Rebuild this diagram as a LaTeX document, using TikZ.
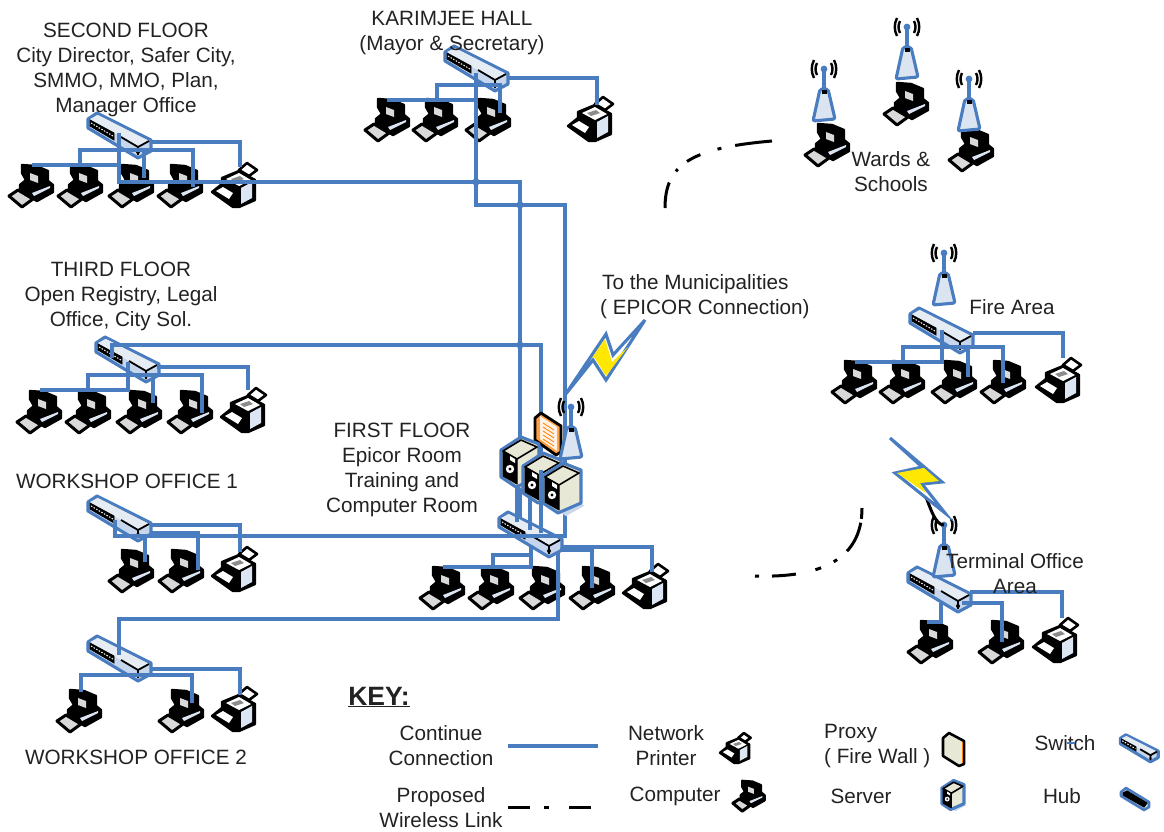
\documentclass[tikz,border=0pt]{standalone}
\usepackage{fontspec}
\setmainfont{Liberation Sans}
\definecolor{lnk}{HTML}{4A7CC0}
\definecolor{ink}{HTML}{222222}
\definecolor{swtop}{HTML}{E6ECF4}
\definecolor{swfront}{HTML}{C6D6EC}
\definecolor{beige}{HTML}{E8E8D6}
\tikzset{
  x=1pt,y=-1pt,
  link/.style={draw=lnk,line width=3.1,line join=miter},
  lbl/.style={text=ink,font=\fontsize{20.7}{25}\selectfont,align=center,inner sep=0},
  blk/.style={fill=black,draw=black,line width=2.4,line join=round},
  compicon/.pic={
    \path[blk] (-8,-21)--(6,-20)--(18,-15)--(18,-5)--(23,-1)--(23,6)--(7,15)--(-10,5)--(-10,-1)--(-4,-6)--(-8,-13)--cycle;
    \fill[white!85!black] (0,-13)--(8,-10)--(8,-3)--(0,-6)--cycle;
    \fill[white!80!lnk] (2,7)--(20,0)--(20,2)--(4,10)--cycle;
    \path[fill=white!85!black,draw=black,line width=3,line join=round] (-21,10)--(-12,4)--(3,13)--(-8,21)--cycle;
  },
  printicon/.pic={
    \path[fill=white,draw=black,line width=2.6,line join=round] (5,-15)--(13,-22)--(23,-15)--(15,-9)--cycle;
    \path[blk] (-12,-7)--(5,-14)--(21,-5)--(21,15)--(5,22)--(-1,22)--(-22,7)--(-12,-1)--cycle;
    \fill[white] (-8,-6)--(5,-12)--(17,-5)--(5,1)--cycle;
    \fill[black!45] (-3,-6)--(6,-9)--(10,-6)--(1,-3)--cycle;
    \fill[white!80!lnk] (7,3)--(18,-3)--(18,13)--(7,19)--cycle;
    \fill[white] (-18,6)--(-11,2)--(-1,8)--(-5,14)--cycle;
  },
  swicon/.pic={
    \path[fill=swfront,draw=lnk,line width=3.1,line join=round] (-31,-16)--(-22,-22)--(32,5)--(32,16)--(19,23)--(-31,-7)--cycle;
    \fill[swtop] (-29,-16)--(-21,-20)--(30,6)--(19,12)--cycle;
    \path[fill=black,draw=black,line width=.8] (-29,-15)--(-5,-2)--(-5,5)--(-29,-9)--cycle;
    \draw[white,line width=1,dash pattern=on 1.5 off 1.5] (-28,-12)--(-6,1);
    \draw[black,line width=1.8] (19,12)--(30,6);
    \draw[black,line width=1.8] (2,2)--(19,12)--(19,20);
    \fill[black] (19,17) circle (2);
  },
  hubicon/.pic={
    \path[fill=swfront,draw=lnk,line width=2.6,line join=round] (-14,-7)--(-9,-11)--(14,3)--(14,8)--(9,11)--(-14,-3)--cycle;
    \path[fill=black,draw=black,line width=1] (-12,-6)--(-8,-8)--(12,4)--(9,8)--(-12,-4)--cycle;
  },
  anticon/.pic={
    \path[fill=white!80!lnk,draw=lnk,line width=3.1,line join=round,rounded corners=2] (-4,20)--(4,20)--(11,50)--(-11,52)--cycle;
    \fill[black] (-2.5,21) rectangle (2.5,25);
    \draw[lnk,line width=3.1] (0,0)--(0,21);
    \fill[lnk] (0,0) circle (3.4);
    \draw[black,line width=2.4] (-7,-6) .. controls (-9,-2) and (-9,2) .. (-7,6);
    \draw[black,line width=2.4] (7,-6) .. controls (9,-2) and (9,2) .. (7,6);
    \draw[black,line width=2.4] (-10,-9) .. controls (-13,-3) and (-13,3) .. (-10,9);
    \draw[black,line width=2.4] (10,-9) .. controls (13,-3) and (13,3) .. (10,9);
  },
  servicon/.pic={
    \fill[lnk!30] (-2,24)--(19,14)--(22,18)--(4,28)--cycle;
    \path[fill=beige,draw=lnk,line width=3.1,line join=round] (-19,-12)--(1,-25)--(19,-18)--(19,15)--(-4,25)--(-19,15)--cycle;
    \path[fill=beige,draw=black,line width=1.6,line join=round] (-17,-11)--(1,-22)--(17,-15)--(-3,-3)--cycle;
    \path[fill=black,draw=black,line width=1,line join=round] (-17,-11)--(-3,-3)--(-3,22)--(-17,14)--cycle;
    \fill[white] (-10,-6)--(-5,-3)--(-5,1)--(-10,-2)--cycle;
    \fill[white] (-10,7) circle (4.2);
    \fill[black] (-10,7) circle (1.6);
  },
  fwicon/.pic={
    \path[fill=orange!75!white,draw=black,line width=2.8,line join=round] (-13,-15)--(-7,-20)--(13,-7)--(13,19)--(8,22)--(-13,7)--cycle;
    \fill[white!90!orange] (-8,-17)--(9,-6)--(9,18)--(-8,6)--cycle;
    \foreach \q in {-10,-6,...,6} {\draw[orange,line width=.8] (-5,\q)--(6,\q+7);}
  },
  keyfw/.pic={
    \path[fill=beige,draw=black,line width=2.6,line join=round] (-10,-11)--(-4,-16)--(11,-8)--(11,15)--(6,17)--(-10,7)--cycle;
    \draw[orange,line width=1.4] (9.5,-7)--(9.5,14);
  },
}
\newcommand{\dev}[4]{\coordinate (#1) at (#2,#3); \pic at (#1) {#4};}
\begin{document}
\begin{tikzpicture}
\useasboundingbox (0,0) rectangle (1164,831);
% second floor
\dev{cA}{30}{186}{compicon}\dev{cB}{79}{186}{compicon}\dev{cC}{130}{186}{compicon}\dev{cD}{179}{186}{compicon}\dev{pA}{234}{185}{printicon}\dev{sA}{119}{135}{swicon}
% Karimjee
\dev{kA}{386}{120}{compicon}\dev{kB}{434}{120}{compicon}\dev{kC}{487}{120}{compicon}\dev{pK}{590}{119}{printicon}\dev{sK}{476}{68}{swicon}
% third floor
\dev{dA}{38}{412}{compicon}\dev{dB}{87}{412}{compicon}\dev{dC}{138}{412}{compicon}\dev{dD}{189}{412}{compicon}\dev{pD}{243}{410}{printicon}\dev{sD}{127}{359}{swicon}
% workshop 1
\dev{eA}{130}{571}{compicon}\dev{eB}{180}{571}{compicon}\dev{pE}{234}{569}{printicon}\dev{sE}{119}{518}{swicon}
% workshop 2
\dev{gA}{78}{711}{compicon}\dev{gB}{180}{711}{compicon}\dev{pG}{234}{709}{printicon}\dev{sG}{119}{658}{swicon}
% first floor
\dev{fA}{441}{588}{compicon}\dev{fB}{490}{588}{compicon}\dev{fC}{541}{588}{compicon}\dev{fD}{591}{588}{compicon}\dev{pF}{645}{586}{printicon}\dev{sF}{530}{534}{swicon}
% wards
\dev{wA}{826}{145}{compicon}\dev{wB}{905}{104}{compicon}\dev{wC}{970}{150}{compicon}
\dev{aA}{824}{69}{anticon}\dev{aB}{907}{27}{anticon}\dev{aC}{969}{79}{anticon}
% fire
\dev{hA}{853}{382}{compicon}\dev{hB}{901}{382}{compicon}\dev{hC}{953}{382}{compicon}\dev{hD}{1002}{382}{compicon}\dev{pH}{1058}{380}{printicon}\dev{sH}{941}{330}{swicon}
\dev{aH}{944}{253}{anticon}
% terminal
\dev{tA}{929}{642}{compicon}\dev{tB}{1000}{642}{compicon}\dev{pT}{1055}{640}{printicon}\dev{sT}{939}{589}{swicon}
\dev{aT}{944}{525}{anticon}
% second floor wires
\draw[link] ([shift={(0,-2)}]sA) |- ([shift={(-10,-352)}]sF) -- ([shift={(-10,-17)}]sF);
\draw[link] ([shift={(2,-21)}]cA) -- ([shift={(0,30)}]sA);
\draw[link] ([shift={(1,-21)}]cB) |- ([shift={(74,15)}]sA) -- ([shift={(14,1)}]cD);
\draw[link] ([shift={(25,15)}]sA) -- ([shift={(14,-8)}]cC);
\draw[link] ([shift={(31,7)}]sA) -| ([shift={(6,-18)}]pA);
% Karimjee wires
\draw[link] ([shift={(0,5)}]sK) |- ([shift={(35,-329)}]sF) -- ([shift={(35,2)}]sF) -- ([shift={(-4,18)}]sE) -- ([shift={(-4,2)}]sE);
\draw[link] ([shift={(1,-20)}]kA) -- ([shift={(0,32)}]sK);
\draw[link] ([shift={(3,-20)}]kB) |- ([shift={(24,17)}]sK) -- ([shift={(13,-7)}]kC);
\draw[link] ([shift={(31,10)}]sK) -| ([shift={(7,-14)}]pK);
% third floor wires
\draw[link] ([shift={(-15,-1)}]sD) |- ([shift={(11,-189)}]sF) -- ([shift={(11,-1)}]sF);
\draw[link] ([shift={(1,3)}]sD) |- ([shift={(2,-22)}]dA);
\draw[link] ([shift={(1,-22)}]dB) |- ([shift={(75,16)}]sD) -- ([shift={(13,1)}]dD);
\draw[link] ([shift={(26,19)}]sD) -- ([shift={(15,-9)}]dC);
\draw[link] ([shift={(30,8)}]sD) -| ([shift={(5,-20)}]pD);
% workshop wires
\draw[link] ([shift={(33,7)}]sE) -| ([shift={(6,-17)}]pE);
\draw[link] ([shift={(26,19)}]sE) -- ([shift={(15,-9)}]eA);
\draw[link] ([shift={(31,15)}]sE) -| ([shift={(18,-1)}]eB);
\draw[link] ([shift={(0,-3)}]sG) |- ([shift={(28,85)}]sF) -- ([shift={(28,19)}]sF);
\draw[link] ([shift={(3,-19)}]gA) |- ([shift={(73,17)}]sG) -- ([shift={(12,-8)}]gB);
\draw[link] ([shift={(33,11)}]sG) -| ([shift={(6,-14)}]pG);
% first floor wires
\draw[link] ([shift={(1,11)}]sF) |- ([shift={(2,-21)}]fA);
\draw[link] ([shift={(3,-21)}]fB) |- ([shift={(1,21)}]sF);
\draw[link] ([shift={(30,16)}]sF) -| ([shift={(1,0)}]fD);
\draw[link] ([shift={(33,13)}]sF) -| ([shift={(7,-14)}]pF);
% fire wires
\draw[link] ([shift={(1,0)}]sH) |- ([shift={(2,-20)}]hA);
\draw[link] ([shift={(2,-20)}]hB) |- ([shift={(62,17)}]sH) -- ([shift={(1,1)}]hD);
\draw[link] ([shift={(27,20)}]sH) -- ([shift={(15,-5)}]hC);
\draw[link] ([shift={(32,3)}]sH) -| ([shift={(5,-22)}]pH);
% terminal wires
\draw[link] ([shift={(2,14)}]sT) |- ([shift={(-2,-20)}]tA);
\draw[link] ([shift={(23,14)}]sT) -| ([shift={(2,0)}]tB);
\draw[link] ([shift={(31,3)}]sT) -| ([shift={(7,-22)}]pT);
% junction dots
\coordinate (jA) at (476,182);\coordinate (jB) at (520,205);\coordinate (jC) at (520,345);
\fill[lnk] (jA) circle (3.6);\fill[lnk] (jB) circle (3.6);\fill[lnk] (jC) circle (3.6);
% server cluster
\dev{fw}{548}{433}{fwicon}
\dev{aF}{571}{407}{anticon}
\dev{srA}{520}{462}{servicon}\dev{srB}{542}{478}{servicon}\dev{srC}{562}{488}{servicon}
\draw[link] ([shift={(-3,24)}]srA) -- ([shift={(-13,-12)}]sF);
\draw[link] ([shift={(-12,18)}]srB) -- ([shift={(0,-4)}]sF);
\draw[link] ([shift={(-1,-8)}]srB) -- ([shift={(11,-1)}]sF);
% wireless bolts
\coordinate (bF) at (565,395);
\path[fill=white,draw=lnk,line width=3.1,line join=miter] (bF)--(606,334)--(613,355)--(645,320)--(606,380)--(593,360)--cycle;
\fill[yellow!90!orange] (592,358)--(605,339)--(612,362)--(628,347)--(606,376)--(594,357)--cycle;
\coordinate (bT) at (890,438);
\draw[black,line width=3] (921,485) .. controls (930,505) and (934,525) .. (aT);
\path[fill=white,draw=lnk,line width=3.1,line join=miter] (bT)--(942,482)--(922,484)--(945,513)--(895,473)--(922,467)--cycle;
\fill[yellow!90!orange] (897,473)--(924,468)--(939,481)--(920,483)--(926,493)--cycle;
\coordinate (dU) at (665,208);\coordinate (dV) at (772,141);
\coordinate (dW) at (755,576);\coordinate (dX) at (862,508);
\draw[black,line width=3,dash pattern=on 26 off 13 on 3 off 12 on 15 off 18 on 4 off 14 on 40] (dU) .. controls (665,165) and (690,148) .. (dV);
\draw[black,line width=3,dash pattern=on 4 off 13 on 24 off 20 on 6 off 14 on 4 off 13 on 32] (dW) .. controls (820,578) and (862,560) .. (dX);
% labels
\node[lbl] (tA1) at (126,70) {SECOND FLOOR\\City Director, Safer City,\\SMMO, MMO, Plan,\\Manager Office};
\node[lbl] (tA2) at (452,33.5) {KARIMJEE HALL\\(Mayor \& Secretary)};
\node[lbl] (tA3) at (891,172) {Wards \&\\Schools};
\node[lbl] (tA4) at (121,296) {THIRD FLOOR\\Open Registry, Legal\\Office, City Sol.};
\node[lbl,align=left,anchor=west] (tA5) at (600,296.5) {\hspace*{2pt}To the Municipalities\\( EPICOR Connection)};
\node[lbl] (tA6) at (1012,307) {Fire Area};
\node[lbl] (tA7) at (402,470) {FIRST FLOOR\\Epicor Room\\Training and\\Computer Room};
\node[lbl] (tA8) at (127,481) {WORKSHOP OFFICE 1};
\node[lbl] (tA9) at (136,757) {WORKSHOP OFFICE 2};
\node[lbl] (tB1) at (1015,574) {Terminal Office\\Area};
% key
\node[lbl,font=\fontsize{26.5}{30}\selectfont\bfseries] (tK) at (379,697) {\underline{KEY:}};
\node[lbl] (tB2) at (441,746) {Continue\\Connection};
\node[lbl] (tB3) at (441,808) {Proposed\\Wireless Link};
\node[lbl] (tB4) at (666,746) {Network\\Printer};
\node[lbl] (tB5) at (675,796) {Computer};
\node[lbl,align=left,anchor=west] (tB6) at (824,746.5) {Proxy\\( Fire Wall )};
\node[lbl] (tB7) at (861,796) {Server};
\node[lbl] (tB8) at (1065,743) {Switch};
\node[lbl] (tB9) at (1062,796) {Hub};
\coordinate (kL1) at (508,746);\coordinate (kL2) at (598,746);
\draw[link] (kL1) -- (kL2);
\coordinate (kW1) at (508,807);\coordinate (kW2) at (592,807);
\draw[black,line width=3,dash pattern=on 22 off 14 on 5 off 20] (kW1) -- (kW2);
\coordinate (kPr) at (735,748);\pic[scale=.68] at (kPr) {printicon};
\coordinate (kCo) at (748,796);\pic[scale=.72] at (kCo) {compicon};
\coordinate (kFw) at (953,749);\pic at (kFw) {keyfw};
\coordinate (kSv) at (953,795);\pic[scale=.58] at (kSv) {servicon};
\coordinate (kSw) at (1139,748);\pic[scale=.6] at (kSw) {swicon};
\coordinate (kHb) at (1135,799);\pic at (kHb) {hubicon};
\coordinate (kS1) at (1067,743);\coordinate (kS2) at (1075,743);
\draw[lnk,line width=2] (kS1) -- (kS2);
\end{tikzpicture}
\end{document}
